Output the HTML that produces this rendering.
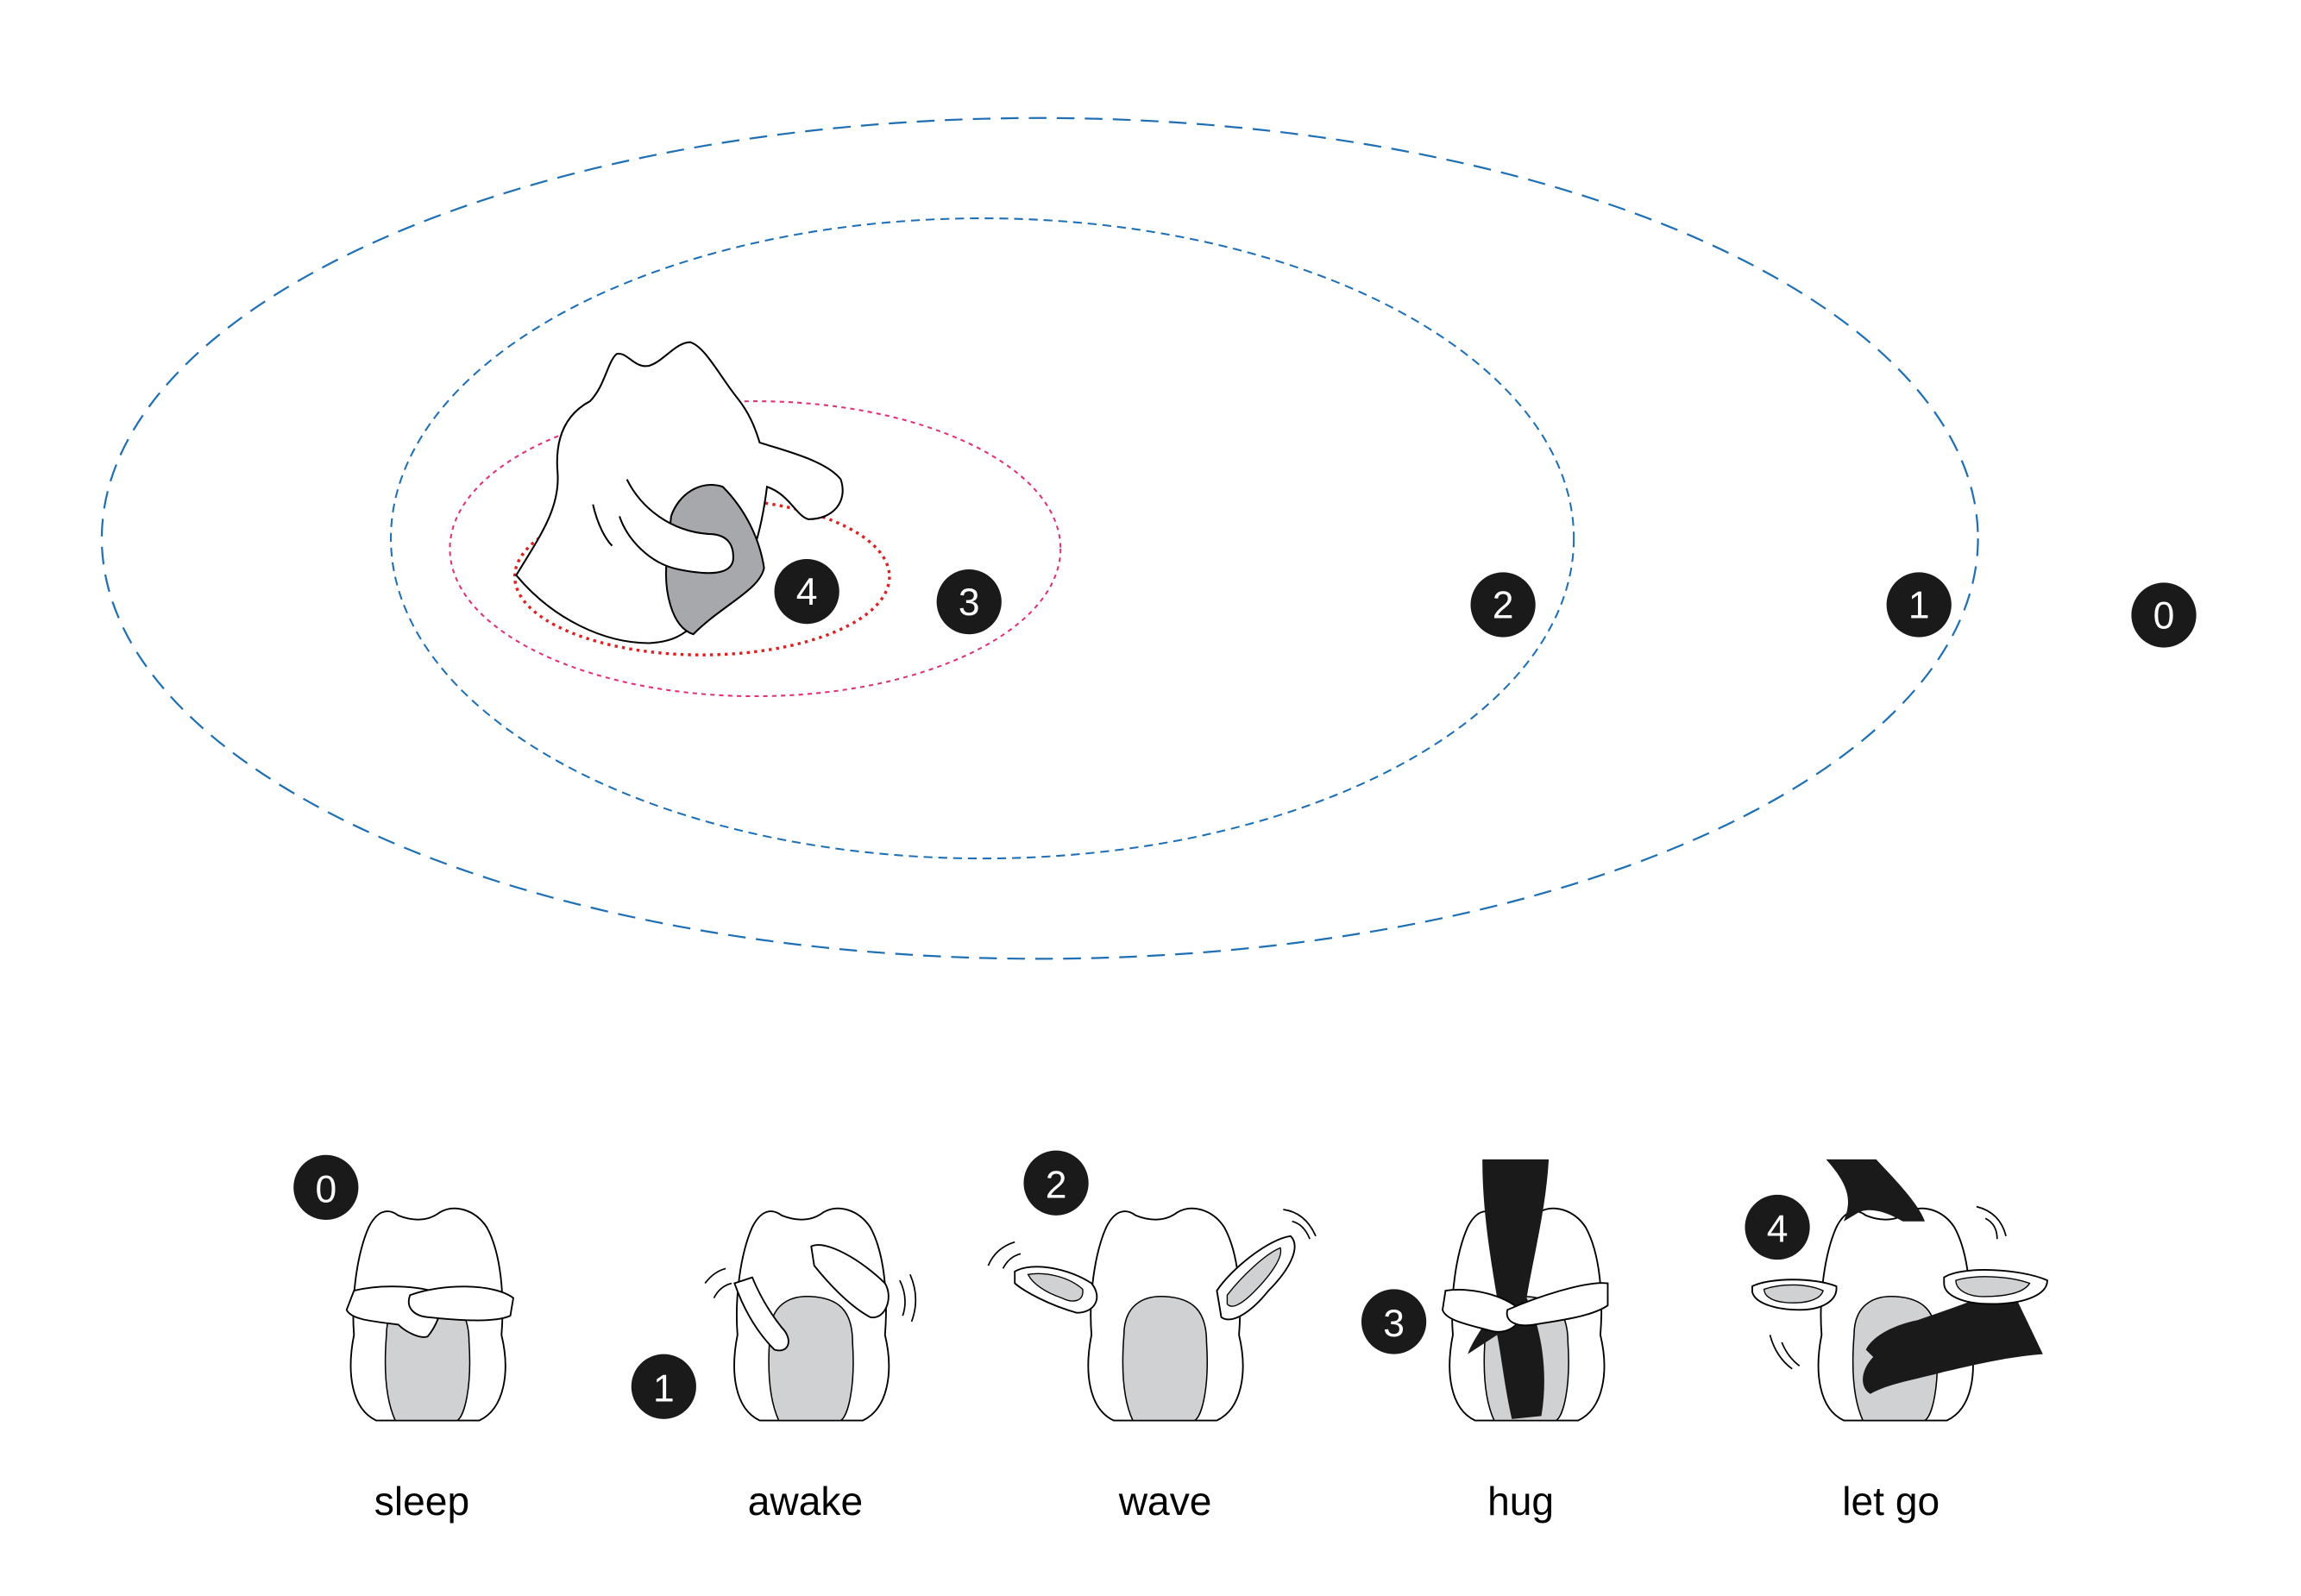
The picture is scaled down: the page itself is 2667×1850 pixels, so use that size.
<!DOCTYPE html>
<html><head><meta charset="utf-8"><style>
html,body{margin:0;padding:0;background:#fff;}
svg{display:block;}
text{font-family:"Liberation Sans",sans-serif;}
</style></head><body>
<svg width="2667" height="1850" viewBox="0 0 1560 1082" preserveAspectRatio="none" xmlns="http://www.w3.org/2000/svg">
<rect width="1560" height="1082" fill="#fff"/>
<g fill="none">
 <ellipse cx="705" cy="365" rx="636" ry="285" stroke="#1f6fb4" stroke-width="1.3" stroke-dasharray="12 7"/>
 <ellipse cx="666" cy="365" rx="401" ry="217" stroke="#1f6fb4" stroke-width="1.2" stroke-dasharray="6 4"/>
 <ellipse cx="512" cy="372" rx="207" ry="100" stroke="#e0307a" stroke-width="1.2" stroke-dasharray="3 3"/>
 <ellipse cx="476" cy="391" rx="127" ry="53" stroke="#e02020" stroke-width="2" stroke-dasharray="2 3"/>
</g>
<g stroke="#000" stroke-width="1.2">
 <path fill="#fff" d="M350,390 C365,365 380,345 378,320 C376,295 385,280 400,272 C410,262 412,245 418,240 C425,238 430,250 440,248 C450,245 458,232 468,232 C478,235 488,255 500,270 C508,280 512,290 515,300 C530,305 560,312 570,325 C575,340 565,352 548,352 C540,350 535,335 520,330 C515,370 505,400 478,418 C465,428 460,435 440,436 C410,436 375,420 350,390 Z"/>
 <path fill="#a7a8ac" d="M455,350 C460,335 475,325 490,330 C505,345 515,365 518,385 C515,400 490,410 470,430 C455,425 450,400 452,380 Z"/>
 <path fill="#fff" d="M425,325 C435,345 455,360 480,362 C492,362 498,368 497,380 C495,390 480,390 460,386 C440,382 425,365 420,350"/>
 <path fill="none" d="M402,342 C405,355 410,365 415,370"/>
</g>
<g font-size="26" fill="#fff" text-anchor="middle">
 <g><circle cx="547" cy="401" r="22" fill="#1a1a1a"/><text x="547" y="410">4</text></g>
 <g><circle cx="657" cy="408" r="22" fill="#1a1a1a"/><text x="657" y="417">3</text></g>
 <g><circle cx="1019" cy="410" r="22" fill="#1a1a1a"/><text x="1019" y="419">2</text></g>
 <g><circle cx="1301" cy="410" r="22" fill="#1a1a1a"/><text x="1301" y="419">1</text></g>
 <g><circle cx="1467" cy="417" r="22" fill="#1a1a1a"/><text x="1467" y="426">0</text></g>
</g>
<defs>
 <g id="body">
  <path fill="#fff" stroke="#000" stroke-width="1.1" d="M-35,73 C-52,65 -55,40 -50,15 C-52,-10 -48,-40 -40,-58 C-35,-68 -28,-72 -20,-66 C-10,-62 0,-62 8,-68 C18,-74 32,-70 40,-58 C50,-40 52,-10 50,15 C56,40 52,65 35,73 Z"/>
  <path fill="#d0d1d3" stroke="#000" stroke-width="0.9" d="M-28,15 C-28,-5 -15,-12 0,-11 C18,-10 28,-2 28,20 C30,50 25,70 20,73 L-22,73 C-28,60 -30,40 -28,15 Z"/>
 </g>
</defs>
<g>
 <use href="#body" transform="translate(290,890)"/>
 <path fill="#fff" stroke="#000" stroke-width="1.1" d="M240,875 C260,870 290,872 300,878 C300,890 295,900 290,906 C285,908 275,903 270,898 C255,896 238,895 235,888 Z"/>
 <path fill="#fff" stroke="#000" stroke-width="1.1" d="M348,880 C335,870 300,870 278,878 C275,886 280,892 290,893 C310,895 335,897 346,892 Z"/>
 <g><circle cx="221" cy="805" r="22" fill="#1a1a1a"/><text x="221" y="815" font-size="26" fill="#fff" text-anchor="middle">0</text></g>
 <text x="286" y="1027" font-size="27" text-anchor="middle">sleep</text>
</g>
<g>
 <use href="#body" transform="translate(550,890)"/>
 <path fill="#fff" stroke="#000" stroke-width="1.1" d="M498,870 C505,890 515,905 525,915 C535,918 538,908 530,900 C522,890 515,878 510,866 Z"/>
 <path fill="#fff" stroke="#000" stroke-width="1.1" d="M550,845 C560,840 585,855 600,870 C606,880 600,895 590,893 C575,885 560,868 552,858 Z"/>
 <path fill="none" stroke="#000" d="M478,870 Q484,862 492,860 M484,880 Q488,872 496,870 M610,868 Q616,880 612,892 M617,864 Q624,880 618,896"/>
 <g><circle cx="450" cy="940" r="22" fill="#1a1a1a"/><text x="450" y="950" font-size="26" fill="#fff" text-anchor="middle">1</text></g>
 <text x="546" y="1027" font-size="27" text-anchor="middle">awake</text>
</g>
<g>
 <use href="#body" transform="translate(790,890)"/>
 <path fill="#fff" stroke="#000" stroke-width="1.1" d="M688,862 C700,855 725,860 740,870 C748,880 742,890 730,890 C712,885 695,876 688,870 Z"/>
 <path fill="#d0d1d3" stroke="#000" stroke-width="0.8" d="M697,864 C710,862 725,866 734,874 C735,882 728,884 720,880 C708,876 700,870 697,864 Z"/>
 <path fill="#fff" stroke="#000" stroke-width="1.1" d="M825,875 C835,860 860,840 875,838 C882,845 875,860 860,875 C848,890 835,898 828,893 Z"/>
 <path fill="#d0d1d3" stroke="#000" stroke-width="0.8" d="M832,878 C842,865 858,850 868,846 C870,852 862,864 850,876 C842,884 835,888 832,884 Z"/>
 <path fill="none" stroke="#000" d="M670,858 Q675,846 688,842 M680,860 Q684,852 692,850 M870,820 Q885,822 892,838 M876,828 Q884,830 888,840"/>
 <g><circle cx="716" cy="802" r="22" fill="#1a1a1a"/><text x="716" y="812" font-size="26" fill="#fff" text-anchor="middle">2</text></g>
 <text x="790" y="1027" font-size="27" text-anchor="middle">wave</text>
</g>
<g>
 <use href="#body" transform="translate(1035,890)"/>
 <path fill="#1a1a1a" d="M1005,786 L1050,786 C1048,820 1040,850 1035,880 C1045,900 1050,930 1045,960 L1025,962 C1020,940 1018,920 1015,905 L995,918 C1000,905 1010,895 1015,880 C1010,850 1005,820 1005,786 Z"/>
 <path fill="#fff" stroke="#000" stroke-width="1.1" d="M980,875 C1000,872 1025,880 1032,890 C1030,900 1020,905 1010,902 C995,898 980,895 978,888 Z"/>
 <path fill="#fff" stroke="#000" stroke-width="1.1" d="M1090,870 C1075,868 1040,880 1022,888 C1020,896 1028,900 1040,898 C1060,895 1080,892 1090,885 Z"/>
 <g><circle cx="945" cy="896" r="22" fill="#1a1a1a"/><text x="945" y="906" font-size="26" fill="#fff" text-anchor="middle">3</text></g>
 <text x="1031" y="1027" font-size="27" text-anchor="middle">hug</text>
</g>
<g>
 <use href="#body" transform="translate(1285,890)"/>
 <path fill="#1a1a1a" d="M1238,786 L1272,786 C1285,800 1300,815 1305,828 L1290,828 C1280,822 1268,818 1260,822 L1250,828 C1255,815 1255,805 1238,786 Z"/>
 <path fill="#1a1a1a" d="M1385,918 L1362,870 C1345,880 1320,888 1300,895 C1285,898 1270,905 1265,915 L1270,920 C1262,928 1260,940 1268,945 C1280,938 1300,935 1318,930 C1340,925 1360,920 1385,918 Z"/>
 <path fill="#fff" stroke="#000" stroke-width="1.1" d="M1188,872 C1200,866 1230,866 1245,872 C1246,882 1235,888 1220,888 C1205,888 1190,884 1188,876 Z"/>
 <path fill="#d0d1d3" stroke="#000" stroke-width="0.8" d="M1196,874 C1208,870 1225,870 1236,875 C1234,882 1222,884 1210,883 C1200,882 1196,878 1196,874 Z"/>
 <path fill="#fff" stroke="#000" stroke-width="1.1" d="M1318,866 C1330,858 1370,860 1388,868 C1388,878 1372,884 1350,884 C1330,884 1318,878 1318,870 Z"/>
 <path fill="#d0d1d3" stroke="#000" stroke-width="0.8" d="M1326,868 C1340,864 1362,865 1376,870 C1372,877 1358,879 1345,879 C1333,879 1326,874 1326,868 Z"/>
 <path fill="none" stroke="#000" d="M1200,905 Q1204,920 1215,928 M1208,910 Q1212,920 1220,926 M1340,818 Q1356,822 1360,838 M1346,826 Q1354,830 1354,840"/>
 <g><circle cx="1205" cy="832" r="22" fill="#1a1a1a"/><text x="1205" y="842" font-size="26" fill="#fff" text-anchor="middle">4</text></g>
 <text x="1282" y="1027" font-size="27" text-anchor="middle">let go</text>
</g>
</svg>
</body></html>
